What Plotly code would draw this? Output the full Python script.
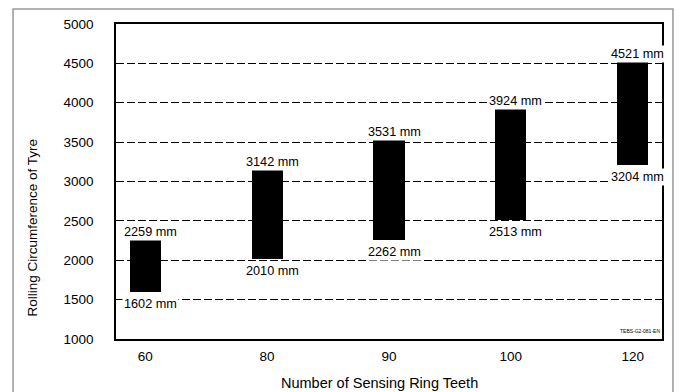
import plotly.graph_objects as go

teeth = ['60', '80', '90', '100', '120']
low_mm = [1602, 2010, 2262, 2513, 3204]
high_mm = [2259, 3142, 3531, 3924, 4521]
y_ticks = [1000, 1500, 2000, 2500, 3000, 3500, 4000, 4500, 5000]

font = 'Liberation Sans, Arial, Helvetica, sans-serif'
pos = list(range(len(teeth)))

fig = go.Figure()

fig.add_trace(go.Bar(
    x=pos,
    y=[h - l for h, l in zip(high_mm, low_mm)],
    base=low_mm,
    width=0.255,
    marker=dict(color='black', line=dict(width=0)),
    hoverinfo='skip',
    showlegend=False,
))

# value labels above and below each bar
for i, lo, hi in zip(pos, low_mm, high_mm):
    fig.add_annotation(x=i, y=hi, text=f'{hi} mm', showarrow=False,
                       yanchor='bottom', yshift=-1, xshift=5,
                       bgcolor='white', borderpad=1,
                       font=dict(family=font, size=12.7, color='black'))
    fig.add_annotation(x=i, y=lo, text=f'{lo} mm', showarrow=False,
                       yanchor='top', yshift=-3, xshift=5,
                       bgcolor='white', borderpad=1,
                       font=dict(family=font, size=12.7, color='black'))

fig.add_annotation(x=1, y=0, xref='paper', yref='paper', text='TEBS-G2-081-EN',
                   showarrow=False, xanchor='right', yanchor='bottom', yshift=3,
                   font=dict(family=font, size=5, color='black'))

# axis titles (placed off-centre, as in the original)
fig.add_annotation(x=0.4826, y=-0.14, xref='paper', yref='paper',
                   text='Number of Sensing Ring Teeth', showarrow=False,
                   xanchor='center', yanchor='middle',
                   font=dict(family=font, size=14.5, color='black'))
fig.add_annotation(x=-0.1538, y=0.354, xref='paper', yref='paper',
                   text='Rolling Circumference of Tyre', showarrow=False,
                   textangle=-90, xanchor='center', yanchor='middle',
                   font=dict(family=font, size=13.5, color='black'))

# outer frame
fig.add_shape(type='rect', xref='paper', yref='paper',
              x0=-0.1886, x1=1.0201, y0=-0.25, y1=1.0476,
              line=dict(color='#999999', width=1.5), layer='below')

fig.update_xaxes(
    range=[-0.24, 4.24], tickvals=pos, ticktext=teeth,
    showgrid=False, showline=True, linecolor='black', linewidth=1.5, mirror=True,
    zeroline=False, ticks='', ticklabelstandoff=4, automargin=False,
    tickfont=dict(family=font, size=13.5, color='black'),
)
fig.update_yaxes(
    range=[1000, 5000], tickvals=y_ticks,
    showgrid=True, gridcolor='black', gridwidth=1, griddash='8px,3px',
    showline=True, linecolor='black', linewidth=1.5, mirror=True,
    zeroline=False, ticks='', ticklabelstandoff=18, automargin=False,
    tickfont=dict(family=font, size=13.5, color='black'),
)

# page body has an 8px margin, so the figure is drawn 8px smaller and shifted
fig.update_layout(
    width=675, height=384,
    margin=dict(l=108, r=21, t=16, b=53, autoexpand=False),
    paper_bgcolor='white', plot_bgcolor='white',
    bargap=0,
)

fig.write_html('out.html')
